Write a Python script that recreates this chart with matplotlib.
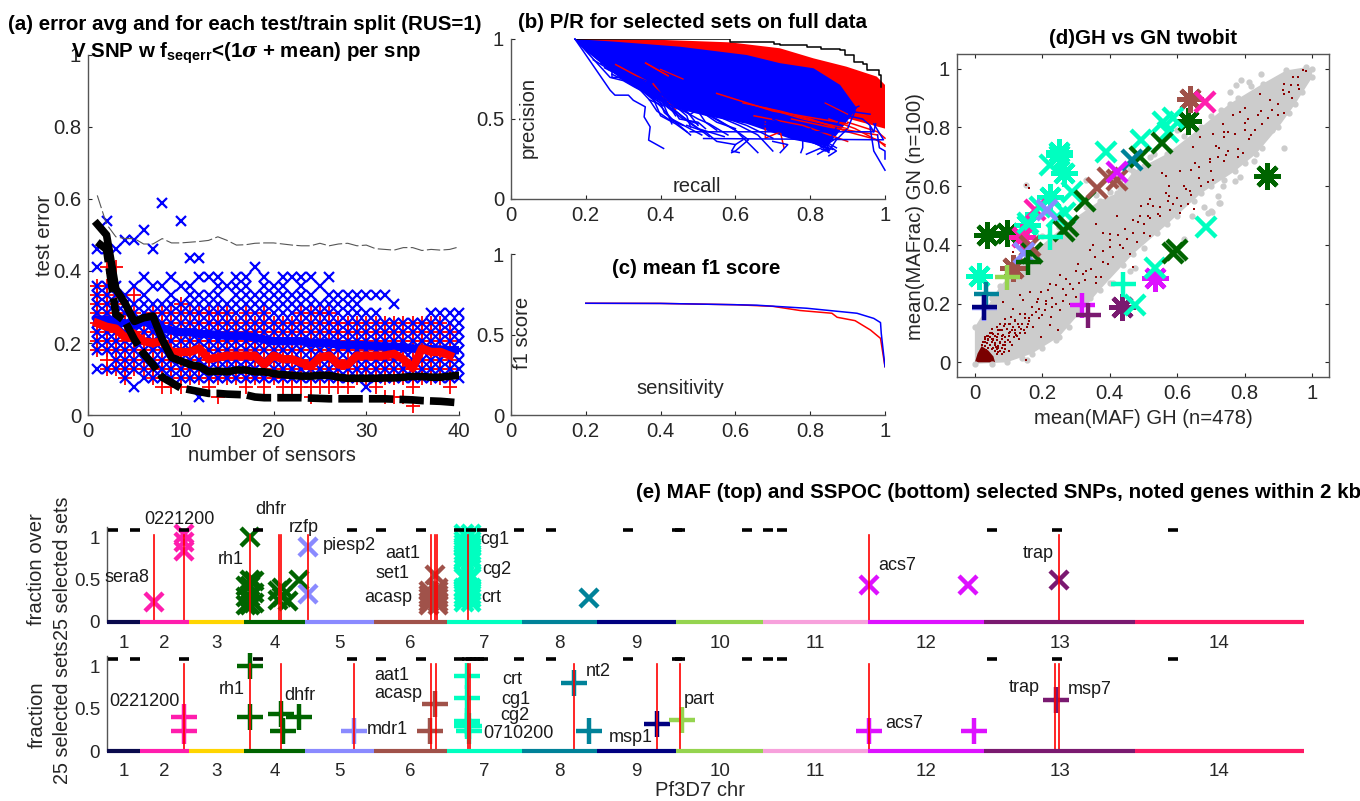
import matplotlib
matplotlib.use('Agg')
import matplotlib.pyplot as plt

plt.rcParams['font.family'] = ['Liberation Sans', 'DejaVu Sans']
plt.rcParams['mathtext.fontset'] = 'custom'
plt.rcParams['mathtext.rm'] = 'Liberation Sans'
plt.rcParams['mathtext.bf'] = 'Liberation Sans:bold'
plt.rcParams['mathtext.it'] = 'DejaVu Serif:italic:bold'

W, H = 1360, 801
TICK = '#262626'
TITLE_FS = 14.8
LABEL_FS = 14.6

# ---- panel (a): test error per sensor count
row_step = 1 / 39
blue_rows = [
    [5, 7, 8, 9, 10, 11, 12, 13, 14, 16, 18], [5, 7, 8, 9, 10, 11, 12, 13, 14, 18, 21],
    [5, 6, 7, 8, 9, 10, 11, 12, 13, 14, 18], [4, 5, 6, 7, 8, 9, 10, 11, 12, 13, 19],
    [3, 5, 6, 7, 8, 9, 10, 11, 12, 14, 19], [4, 5, 6, 7, 8, 9, 10, 11, 12, 13, 15, 20],
    [4, 5, 6, 7, 8, 9, 10, 11, 12, 14, 18], [4, 5, 6, 7, 8, 9, 10, 11, 12, 14, 23],
    [4, 5, 6, 7, 8, 9, 10, 11, 12, 13, 15], [4, 5, 6, 7, 8, 9, 10, 11, 12, 14, 21],
    [4, 5, 6, 7, 8, 9, 10, 11, 12, 13, 14, 17], [2, 4, 5, 6, 7, 8, 9, 10, 11, 12, 13, 15, 17],
    [4, 5, 6, 7, 8, 9, 10, 11, 12, 13, 15], [4, 5, 6, 7, 8, 9, 10, 11, 12, 13, 14, 15],
    [4, 5, 6, 7, 8, 9, 10, 11, 12, 14], [4, 5, 6, 7, 8, 9, 10, 11, 12, 13, 14, 15],
    [4, 5, 6, 7, 8, 9, 10, 11, 12, 13, 14, 15], [4, 5, 6, 7, 8, 9, 10, 11, 12, 13, 16],
    [4, 5, 6, 7, 8, 9, 10, 11, 12, 13, 14, 15], [4, 5, 6, 7, 8, 9, 10, 11, 12, 13, 14],
    [4, 5, 6, 7, 8, 9, 10, 11, 12, 13, 14, 15], [4, 5, 6, 7, 8, 9, 10, 11, 12, 13, 15],
    [4, 5, 6, 7, 8, 9, 10, 11, 12, 13, 14, 15], [4, 5, 6, 7, 8, 9, 10, 11, 12, 13, 15],
    [4, 5, 6, 7, 8, 9, 10, 11, 12, 14], [4, 5, 6, 7, 8, 9, 10, 11, 12, 13, 15],
    [4, 5, 6, 7, 8, 9, 10, 11, 12, 13], [4, 5, 6, 7, 8, 9, 10, 11, 12, 13],
    [4, 5, 6, 7, 8, 9, 10, 11, 12, 13], [3, 4, 5, 6, 7, 8, 9, 10, 11, 13],
    [4, 5, 6, 7, 8, 9, 10, 11, 13], [4, 5, 6, 7, 8, 9, 10, 13],
    [4, 5, 6, 7, 8, 9, 10, 12], [4, 5, 6, 7, 8, 9, 10],
    [4, 5, 6, 7, 8, 9, 10], [4, 5, 6, 7, 8, 9, 10],
    [4, 5, 6, 7, 8, 9, 10, 11], [4, 5, 6, 7, 8, 9, 10, 11],
    [4, 5, 6, 7, 8, 9, 10, 11], [4, 5, 6, 7, 8, 9, 10, 11],
]
red_rows = [
    [7, 8, 9, 10, 11, 12, 13, 14], [5, 6, 7, 8, 9, 10, 11, 12, 13, 14, 16],
    [5, 6, 7, 8, 9, 10, 11, 12, 16], [4, 5, 6, 7, 8, 9, 10, 11],
    [5, 6, 7, 8, 9, 10, 11, 13], [5, 6, 7, 8, 9, 10],
    [4, 5, 6, 7, 8, 9, 10, 11], [3, 4, 5, 6, 7, 8, 9, 10, 11],
    [3, 4, 5, 6, 7, 8, 9, 10, 11], [3, 4, 5, 6, 7, 8, 9, 10, 11, 12],
    [4, 5, 6, 7, 8, 9, 10, 11], [4, 5, 6, 7, 8, 9, 10, 11],
    [3, 4, 5, 6, 7, 8, 9, 10, 11], [2, 4, 5, 6, 7, 8, 9, 10, 11],
    [4, 5, 6, 7, 8, 9, 10, 11], [4, 5, 6, 7, 8, 9, 10],
    [3, 4, 5, 6, 7, 8, 9, 10, 11], [4, 5, 6, 7, 8, 9, 10],
    [3, 4, 5, 6, 7, 8, 9, 10, 11], [4, 5, 6, 7, 8, 9, 10],
    [3, 4, 5, 6, 7, 8, 9, 10], [3, 4, 5, 6, 7, 8, 9, 10],
    [3, 4, 5, 6, 7, 8, 9, 10, 11], [2, 3, 4, 5, 6, 7, 8, 9, 10, 11],
    [3, 4, 5, 6, 7, 8, 9, 10, 11], [3, 4, 5, 6, 7, 8, 9, 10, 11],
    [3, 4, 5, 6, 7, 8, 9, 10], [3, 4, 5, 6, 7, 8, 9, 10],
    [4, 5, 6, 7, 8, 9, 10], [4, 5, 6, 7, 8, 9, 10],
    [3, 4, 5, 6, 7, 8, 9, 10], [2, 4, 5, 6, 7, 8, 9, 10],
    [2, 4, 5, 6, 7, 8, 9, 10], [2, 4, 5, 6, 7, 8, 9, 10],
    [1, 3, 4, 5, 6, 7, 8, 9, 10], [4, 5, 6, 7, 8, 9, 10],
    [4, 5, 6, 7, 8, 9, 10], [4, 5, 6, 7, 8, 9, 10],
    [3, 4, 5, 6, 7, 8, 9],
]
sensors = list(range(1, 41))
mean_black = [.53, .50, .35, .31, .26, .27, .275, .21, .16, .15, .14, .135, .12, .122, .12, .125, .125,
              .12, .12, .115, .112, .11, .108, .108, .11, .11, .105, .102, .102, .102, .102, .103, .103,
              .105, .107, .107, .105, .105, .108, .11]
dash_black = [.48, .46, .28, .26, .21, .17, .14, .105, .09, .075, .07, .065, .06, .06, .058, .057, .056,
              .05, .048, .048, .048, .048, .048, .047, .046, .045, .045, .045, .045, .045, .045, .045,
              .044, .043, .042, .04, .039, .038, .036, .034]
mean_red = [.255, .245, .24, .215, .225, .205, .2, .205, .175, .175, .175, .185, .155, .16, .165, .165,
            .165, .165, .14, .165, .155, .155, .145, .135, .16, .165, .14, .14, .165, .165, .165, .165,
            .17, .155, .13, .185, .175, .175, .165]
mean_blue = [.265, .265, .26, .255, .25, .26, .25, .24, .235, .23, .23, .225, .225, .222, .22, .22, .22,
             .215, .21, .205, .205, .205, .205, .2, .2, .2, .195, .195, .195, .193, .192, .19, .19, .188,
             .185, .185, .183, .182, .18, .18]
dash_gray = [.61, .53, .495, .49, .49, .475, .475, .49, .478, .478, .48, .482, .485, .495, .485, .472,
             .473, .477, .478, .478, .475, .472, .47, .47, .477, .47, .475, .477, .47, .472, .462, .46,
             .458, .465, .465, .457, .46, .458, .46, .467]

# ---- panel (b): precision / recall, bulk outlines and single curves
red_top_x = [.171, .407, .586, .719, .809, .897, .978, 1.0]
red_top_y = [1.0, .994, .979, .942, .879, .827, .765, .713]
red_low_x = [1.0, .897, .80, .60, .40, .171]
red_low_y = [.44, .505, .55, .66, .80, 1.0]
blue_top_x = [.171, .273, .451, .63, .719, .809, .88, .925]
blue_top_y = [1.0, .984, .952, .90, .849, .817, .713, .567]
blue_low_x = [.925, .871, .844, .755, .63, .52, .45, .36, .30, .229, .184, .171]
blue_low_y = [.567, .40, .33, .37, .47, .52, .56, .66, .74, .87, .962, 1.0]
black_x = [.171, .586, .702, .72, .791, .83, .88, .893, .916, .942, .951, .983, .988]
black_y = [1.0, .981, .971, .965, .95, .94, .929, .898, .857, .846, .809, .773, .70]
blue_curves = [
    ([.171, .265, .278, .314, .327, .359, .356, .372, .368, .408], [1.0, .68, .649, .649, .617, .576, .513, .451, .368, .316]),
    ([.171, .265, .30, .33, .37, .41, .44, .48, .50, .57], [1.0, .76, .74, .70, .65, .60, .55, .47, .44, .39]),
    ([.20, .28, .33, .37, .39, .42, .46], [.93, .79, .72, .62, .55, .50, .46]),
    ([.25, .30, .34, .38, .40, .44, .47], [.82, .76, .70, .63, .52, .47, .42]),
    ([.29, .33, .36, .40, .43, .47, .51], [.77, .72, .66, .58, .50, .45, .40]),
    ([.30, .35, .40, .41, .45, .48], [.75, .68, .60, .54, .46, .40]),
    ([.36, .40, .44, .49, .53], [.66, .60, .55, .46, .39]),
    ([.41, .48, .50, .60, .66], [.60, .53, .56, .43, .29]),
    ([.50, .55, .60, .635, .60, .59], [.56, .50, .43, .37, .30, .29]),
    ([.479, .60, .97, .975], [.42, .42, .42, .47]),
    ([.515, .70, .996, .97], [.378, .375, .37, .47]),
    ([.96, .97, 1.0], [.45, .30, .18]),
    ([.98, .985, 1.0, 1.0], [.40, .32, .30, .25]),
    ([.70, .80, .85], [.50, .38, .29]),
    ([.80, .85, .83], [.44, .30, .31]),
    ([.78, .78, .775], [.37, .32, .29]),
    ([.87, .83, .79], [.38, .32, .28]),
    ([.84, .87, .85], [.35, .30, .27]),
    ([.82, .85, .82], [.40, .32, .28]),
    ([.88, .86, .84], [.50, .40, .30]),
    ([.92, .90, .87, .85], [.55, .44, .37, .30]),
    ([.55, .61, .66, .70], [.52, .46, .40, .30]),
    ([.60, .70, .78, .85], [.50, .44, .38, .31]),
    ([.47, .52, .55, .60], [.46, .42, .36, .34]),
    ([.37, .41, .43], [.62, .58, .47]),
    ([.93, .90, .96], [.58, .55, .53]),
    ([.22, .27, .27, .31, .33, .37], [.87, .80, .76, .76, .72, .70]),
    ([.24, .29, .32, .36, .38, .42], [.85, .79, .75, .70, .64, .60]),
    ([.26, .30, .35, .37, .41, .44], [.81, .77, .73, .66, .63, .52]),
    ([.27, .34, .38, .42, .46, .50], [.78, .70, .66, .57, .50, .47]),
    ([.31, .36, .39, .44, .47, .48], [.78, .74, .68, .58, .52, .45]),
    ([.33, .38, .43, .45, .50, .52], [.73, .66, .58, .50, .48, .44]),
    ([.35, .41, .45, .48, .50], [.70, .62, .60, .52, .46]),
    ([.38, .44, .47, .50, .53, .58], [.68, .60, .54, .50, .47, .40]),
    ([.40, .45, .50, .52, .55], [.66, .60, .55, .48, .43]),
    ([.42, .46, .50, .55, .60], [.64, .60, .56, .48, .44]),
    ([.46, .52, .58, .63, .70], [.60, .54, .50, .46, .38]),
    ([.52, .60, .67, .73, .80], [.58, .52, .46, .42, .38]),
    ([.64, .70, .76, .82], [.50, .46, .40, .35]),
    ([.68, .75, .80, .84], [.46, .42, .38, .33]),
    ([.72, .78, .82, .86], [.42, .38, .34, .31]),
    ([.76, .81, .84, .87], [.42, .38, .36, .32]),
    ([.70, .74, .72], [.36, .34, .29]),
    ([.62, .60, .59, .61], [.37, .34, .30, .29]),
    ([.90, .94, .96, .97], [.52, .50, .46, .42]),
]
red_curves = [
    ([.36, .42], [.85, .77]),
    ([.28, .36], [.84, .74]),
    ([.55, .70, .90], [.66, .55, .47]),
    ([.68, .68, .72, .73], [.48, .38, .42, .32]),
    ([.75, .85, .98], [.50, .45, .40]),
    ([.85, .92, 1.0], [.50, .44, .34]),
    ([.80, .90, .98, 1.0], [.50, .42, .37, .33]),
    ([.65, .78, .90], [.52, .46, .36]),
    ([.90, .98, 1.0], [.48, .42, .38]),
    ([.38, .42, .44], [.72, .60, .56]),
]
# red strands that run on top of the blue bulk
red_over = [
    ([.36, .42], [.85, .77]),
    ([.40, .46], [.81, .75]),
    ([.62, .72, .80], [.60, .55, .50]),
    ([.68, .78, .86], [.57, .50, .46]),
    ([.76, .84, .90], [.52, .47, .44]),
    ([.84, .90], [.60, .53]),
]

# ---- panel (c): mean f1 score
f1_red_x = [.2, .4, .6, .7, .773, .858, .872, .92, .961, .988, 1.0]
f1_red_y = [.694, .693, .685, .675, .649, .632, .607, .586, .528, .476, .30]
f1_blue_x = [.2, .4, .6, .657, .791, .925, .97, .988, .99, 1.0]
f1_blue_y = [.694, .693, .685, .682, .663, .632, .60, .574, .507, .30]

# ---- panel (d): GH vs GN allele frequencies
band_top_x = [0, .075, .17, .27, .37, .42, .47, .57, .67, .755, .854, .923, .982, 1.0]
band_top_y = [.12, .26, .37, .47, .55, .575, .65, .71, .80, .88, .949, .994, 1.005, 1.0]
band_low_x = [0, .095, .17, .25, .37, .47, .57, .67, .77, .834, .90, .95, 1.0]
band_low_y = [-.005, 0, .03, .087, .246, .37, .47, .575, .65, .71, .80, .88, .97]
gray_x = [.849, .814, .775, .755, .918, .827, .785, .770, .735, .720, .725, .701, .69, .644, .727, .702,
          .68, .475, .152, .154, .79, .85, .46, .41, .33, .29, .24, .20, .12, .05, .10, .43, .52, .60, .62,
          .03, .05, .09, .12, .14, .19, .22, .25, .30, .33, .36, .40, .43, .46, .50, .53, .58, .62, .66,
          .70, .73, .78, .82, .05, .14, .20, .23, .28, .31, .34, .40, .44, .50, .54, .60, .65, .70, .74,
          .80, .85, .88, .93, .97]
gray_y = [.983, .954, .943, .920, .731, .685, .631, .617, .602, .565, .542, .515, .51, .500, .541, .513,
          .53, .32, .604, .008, .96, .93, .31, .27, .62, .19, .075, .43, .35, .22, .02, .59, .70, .79, .42,
          .17, .22, .25, .31, .33, .38, .43, .46, .49, .53, .57, .58, .62, .66, .67, .71, .72, .77, .79,
          .84, .86, .90, .94, -.005, .015, .05, .09, .12, .17, .22, .27, .33, .39, .44, .50, .55, .60, .62,
          .68, .73, .79, .85, .92]
dot_x = [.084, .104, .114, .128, .069, .054, .079, .099, .123, .138, .044, .034, .064, .084, .108, .133,
         .089, .114, .084, .163, .187, .217, .242, .271, .306, .345, .380, .395, .340, .355, .400, .424,
         .469, .247, .222, .197, .173, .158, .148, .207, .227, .252, .281, .301, .183, .197, .222, .143,
         .133, .252, .281, .326, .375, .400, .444, .360, .400, .153, .114, .152, .160,
         .972, .982, .918, .938, .957, .943, .957, .931, .913, .918, .874, .844, .800, .785, .765, .849,
         .839, .809, .800, .869, .898, .918, .735, .740, .750, .740, .706, .668, .800, .819, .814, .770,
         .716, .725, .647, .780, .795, .745, .740, .696, .696, .654, .664, .642, .607, .556, .568, .577,
         .666, .706, .691, .627, .637, .568, .577, .573, .518, .528, .513, .494, .587, .612, .632, .651,
         .607, .543, .513, .489, .469, .484,
         .44, .47, .46, .50, .52, .55, .42, .38, .35, .30, .26, .19, .16, .12, .10, .09, .07, .06, .05,
         .04, .11, .13, .15, .08, .06, .10, .03, .075, .09, .12, .05, .07, .17, .21, .23, .27, .32, .36,
         .065, .07, .06, .05, .04, .03, .075, .085, .09, .08, .065, .055, .045, .10, .11, .12, .13, .14,
         .095, .085, .075, .065, .05, .105, .12, .15, .16, .17, .18, .19, .20, .21, .23, .24, .26, .27,
         .29, .31, .33, .36, .38, .41, .43, .45, .48, .50, .52, .55, .58, .60, .62, .64, .67, .70, .72,
         .75, .78, .83, .85, .88, .90, .94, .96,
         .02, .03, .04, .05, .06, .07, .08, .025, .035, .045, .055, .065, .075, .085, .03, .04, .05, .06,
         .07, .08, .09, .10, .035, .045, .055, .065, .075, .09, .105, .115, .125, .135, .145, .155]
dot_y = [.092, .103, .120, .132, .098, .075, .081, .075, .092, .115, .058, .041, .052, .058, .154, .166,
         .149, .183, .205, .240, .217, .245, .262, .285, .336, .319, .342, .336, .381, .359, .415, .432,
         .325, .109, .126, .086, .120, .132, .166, .177, .154, .177, .200, .222, .205, .240, .268, .211,
         .228, .296, .268, .279, .291, .393, .455, .472, .438, .007, .376, .604, .595,
         .996, .992, .949, .946, .943, .971, .971, .920, .928, .915, .894, .915, .867, .852, .841, .855,
         .841, .829, .815, .833, .841, .849, .812, .784, .784, .767, .778, .769, .792, .773, .761, .776,
         .735, .731, .733, .727, .712, .705, .687, .693, .682, .678, .665, .656, .653, .644, .636, .602,
         .628, .622, .614, .591, .583, .576, .568, .551, .557, .531, .540, .534, .540, .534, .540, .523,
         .508, .506, .500, .500, .483, .478,
         .39, .44, .37, .47, .43, .50, .50, .44, .40, .31, .25, .15, .15, .11, .10, .13, .11, .09, .08,
         .09, .06, .08, .10, .11, .06, .13, .07, .13, .06, .14, .10, .035, .19, .21, .19, .23, .30, .27,
         .03, .05, .06, .07, .08, .085, .065, .06, .07, .09, .085, .095, .10, .09, .11, .10, .12, .13,
         .115, .125, .11, .12, .115, .13, .145, .15, .14, .16, .17, .18, .16, .20, .22, .20, .21, .23,
         .25, .27, .31, .29, .38, .36, .40, .42, .41, .44, .49, .53, .52, .56, .60, .57, .60, .65, .70,
         .72, .70, .79, .81, .86, .88, .90, .93,
         .06, .055, .05, .045, .04, .035, .03, .07, .065, .06, .05, .045, .04, .035, .08, .075, .07, .065,
         .055, .05, .045, .04, .09, .085, .08, .075, .07, .085, .07, .085, .09, .10, .11, .12]
dense_x = [0, .06, .055, .04, .02, .008]
dense_y = [0, 0, .02, .04, .055, .03]

# chromosome colours, index 0 is chromosome 1
chr_colors = ['#0a0a4d', '#ff1dad', '#ffd500', '#006400', '#8a8aff', '#a0524a', '#00ffc0',
              '#008299', '#000080', '#95d44f', '#f7a1dc', '#dd11ff', '#7a1a70', '#ff1a66']

star_x = [.036, .095, .633, .865, .011, .248, .25, .263, .223, .154, .638, .112, .435, .534, .139]
star_y = [.434, .44, .822, .634, .294, .717, .705, .644, .564, .468, .896, .32, .19, .286, .428]
star_chr = [4, 4, 4, 4, 7, 7, 7, 7, 7, 7, 6, 6, 13, 12, 2]
cross_x = [.682, .179, .388, .492, .559, .588, .574, .287, .268, .223, .685, .534, .475, .243, .193, .159,
           .277, .327, .49, .554, .598, .588, .263, .169, .361, .396, .42, .164, .146, .213, .465, .42]
cross_y = [.888, .519, .717, .757, .82, .831, .785, .579, .507, .672, .46, .32, .195, .496, .53, .473,
           .464, .549, .70, .746, .383, .371, .448, .371, .593, .627, .62, .396, .371, .519, .689, .649]
cross_chr = [2, 2, 7, 7, 7, 7, 7, 7, 7, 7, 7, 7, 7, 7, 7, 7,
             4, 4, 4, 4, 4, 4, 4, 4, 6, 6, 6, 6, 5, 5, 8, 12]
plus_x = [.44, .223, .159, .095, .034, .026, .026, .319, .335]
plus_y = [.267, .428, .343, .292, .233, .184, .19, .195, .161]
plus_chr = [7, 7, 4, 10, 8, 5, 9, 12, 13]

# ---- panel (e): genome positions in Mb
chr_len = [.64, .95, 1.07, 1.2, 1.34, 1.42, 1.45, 1.47, 1.54, 1.69, 2.04, 2.27, 2.93, 3.29]
chr_names = ['1', '2', '3', '4', '5', '6', '7', '8', '9', '10', '11', '12', '13', '14']
gap_pos_top = [.12, .54, 1.49, 2.93, 4.77, 5.33, 6.12, 6.86, 7.08, 7.29, 8.01, 8.65, 10.15, 11.1,
               11.16, 12.45, 12.86, 13.14, 17.22, 18.49, 20.75]
gap_pos_bot = [.12, .54, 1.49, 2.93, 4.77, 5.33, 6.12, 6.86, 7.0, 7.08, 7.16, 7.24, 7.32, 8.01, 8.65,
               10.15, 11.1, 11.16, 12.45, 12.86, 13.14, 17.22, 18.49, 20.75]
gene_top = [.92, 1.49, 2.79, 3.35, 3.39, 3.91, 6.31, 6.39, 6.43, 7.02, 14.84, 18.53]
gene_bot = [1.49, 2.79, 3.39, 4.80, 6.31, 6.40, 7.02, 7.07, 9.10, 10.71, 11.16, 14.84, 18.46, 18.53]

top_x = [.92, 1.49, 1.49, 1.49, 2.79, 2.79, 2.79, 2.79, 2.79, 2.71, 2.71, 2.71, 2.87, 2.87, 2.87,
         3.32, 3.32, 3.40, 3.40, 3.53, 3.74, 3.91, 3.91,
         6.27, 6.27, 6.27, 6.27, 6.27, 6.44, 6.44, 6.44, 6.44, 6.44, 6.44, 6.39,
         6.95, 6.95, 6.95, 6.95, 6.95, 6.95, 6.95, 6.95, 6.95, 6.95, 6.95, 6.95, 6.95, 6.95, 6.95,
         7.08, 7.08, 7.08, 7.08, 7.08, 7.08, 7.08, 7.08, 7.08, 7.08, 7.08, 7.08, 7.08, 7.08, 7.08,
         9.38, 14.84, 16.75, 18.53]
top_y = [.24, .84, .94, 1.04, 1.0, .49, .42, .30, .20, .42, .30, .20, .48, .34, .22,
         .36, .26, .40, .30, .25, .50, .89, .33,
         .36, .32, .28, .24, .20, .40, .36, .32, .28, .24, .20, .56,
         .24, .28, .32, .36, .40, .52, .56, .72, .76, .80, .84, .88, .92, .96, 1.04,
         .24, .28, .32, .36, .40, .52, .56, .72, .76, .80, .84, .88, .92, .96, 1.04,
         .28, .44, .44, .49]
top_chr = [2, 2, 2, 2, 4, 4, 4, 4, 4, 4, 4, 4, 4, 4, 4,
           4, 4, 4, 4, 4, 4, 5, 5,
           6, 6, 6, 6, 6, 6, 6, 6, 6, 6, 6, 6,
           7, 7, 7, 7, 7, 7, 7, 7, 7, 7, 7, 7, 7, 7, 7,
           7, 7, 7, 7, 7, 7, 7, 7, 7, 7, 7, 7, 7, 7, 7,
           8, 12, 12, 13]

bot_x = [1.49, 1.49, 2.79, 2.79, 3.39, 3.42, 3.74, 4.80, 6.39, 6.29, 7.0, 7.0, 7.0, 7.0, 7.0, 7.05, 7.05, 9.1, 9.38,
         10.71, 11.2, 14.84, 16.88, 18.48]
bot_y = [.40, .24, 1.0, .40, .44, .24, .40, .24, .56, .24, .88, .62, .35, .32, .29, .29, .24, .80, .24, .32, .36, .24, .24, .60]
bot_chr = [2, 2, 4, 4, 4, 4, 4, 5, 6, 6, 7, 7, 7, 7, 7, 7, 7, 8, 8, 9, 10, 12, 12, 13]

labels_top = [('sera8', 127, 577), ('0221200', 179, 520), ('dhfr', 271, 510), ('rzfp', 304, 528),
              ('piesp2', 349, 545), ('rh1', 231, 560), ('aat1', 403, 554), ('set1', 393, 573),
              ('acasp', 388, 597), ('cg1', 495, 540), ('cg2', 497, 570), ('crt', 491, 598),
              ('acs7', 897, 565), ('trap', 1038, 554)]
labels_bot = [('0221200', 144, 701), ('rh1', 232, 690), ('dhfr', 300, 695), ('aat1', 392, 676),
              ('acasp', 398, 693), ('mdr1', 387, 730), ('crt', 512, 679), ('cg1', 516, 700),
              ('cg2', 515, 715), ('0710200', 518, 733), ('nt2', 598, 672), ('msp1', 631, 738),
              ('part', 699, 700), ('acs7', 904, 723), ('trap', 1024, 687), ('msp7', 1090, 690)]


def make_ax(left, top, right, bottom):
    ax = fig.add_axes([left / W, 1 - bottom / H, (right - left) / W, (bottom - top) / H])
    ax.tick_params(direction='in', length=3, width=0.8, colors=TICK, labelsize=LABEL_FS, pad=5)
    for side in ax.spines:
        ax.spines[side].set_color('#555555')
        ax.spines[side].set_linewidth(1.0)
    ax.patch.set_alpha(0)
    return ax


def put(x, y, s, **kw):
    kw.setdefault('ha', 'center')
    kw.setdefault('va', 'center')
    kw.setdefault('fontsize', LABEL_FS)
    kw.setdefault('color', TICK)
    fig.text(x / W, 1 - y / H, s, **kw)


def title(x, y, s, **kw):
    put(x, y, s, fontsize=TITLE_FS, fontweight='bold', color='black', **kw)


fig = plt.figure(figsize=(W / 100, H / 100), dpi=100)

# (a)
ax = make_ax(88, 55, 459, 415)
for n, rows in zip(sensors, red_rows):
    ax.plot([n] * len(rows), [k * row_step for k in rows], '+', color='red', ms=10, mew=1.3, clip_on=False)
for n, rows in zip(sensors, blue_rows):
    ax.plot([n] * len(rows), [k * row_step for k in rows], 'x', color='#0000ff', ms=7.5, mew=1.6, clip_on=False)
ax.plot(sensors, dash_gray, color='#555555', lw=0.8, dashes=(12, 3))
ax.plot(sensors, mean_blue, color='#0000ff', lw=6)
ax.plot(sensors[:39], mean_red, color='red', lw=6)
ax.plot(sensors, mean_black, color='black', lw=5.5)
ax.plot(sensors, dash_black, color='black', lw=5.5, dashes=(3.2, 0.8))
ax.set_xlim(0, 40)
ax.set_ylim(0, 1)
ax.set_xticks([0, 10, 20, 30, 40])
ax.set_yticks([0, .2, .4, .6, .8, 1])
ax.set_yticklabels(['0', '0.2', '0.4', '0.6', '0.8', '1'])
ax.spines[['top', 'right']].set_visible(False)
put(45, 235, 'test error', rotation=90)
put(272, 456, 'number of sensors')
title(245, 25, '(a) error avg and for each test/train split (RUS=1)')
title(246, 53, r'V SNP w f$_{\mathbf{seqerr}}$<(1$\sigma$ + mean) per snp')

# (b)
ax = make_ax(511, 39, 885, 199)
ax.plot(black_x, black_y, color='black', lw=1.1, drawstyle='steps-post')
ax.fill(red_top_x + red_low_x, red_top_y + red_low_y, color='red', lw=0)
for xs, ys in red_curves:
    ax.plot(xs, ys, color='red', lw=1.1, clip_on=False)
ax.fill(blue_top_x + blue_low_x, blue_top_y + blue_low_y, color='#0000ff', lw=0)
for xs, ys in blue_curves:
    ax.plot(xs, ys, color='#0000ff', lw=1.1, clip_on=False)
for xs, ys in red_over:
    ax.plot(xs, ys, color='red', lw=0.9)
ax.set_xlim(0, 1)
ax.set_ylim(0, 1)
ax.set_xticks([0, .2, .4, .6, .8, 1])
ax.set_xticklabels(['0', '0.2', '0.4', '0.6', '0.8', '1'])
ax.set_yticks([0, .5, 1])
ax.set_yticklabels(['0', '0.5', '1'])
ax.spines[['top', 'right']].set_visible(False)
put(528, 117, 'precision', rotation=90)
put(697, 187, 'recall')
title(692, 23, '(b) P/R for selected sets on full data')

# (c)
ax = make_ax(511, 254, 885, 415)
ax.plot(f1_red_x, f1_red_y, color='red', lw=1.1)
ax.plot(f1_blue_x, f1_blue_y, color='#0000ff', lw=1.1)
ax.set_xlim(0, 1)
ax.set_ylim(0, 1)
ax.set_xticks([0, .2, .4, .6, .8, 1])
ax.set_xticklabels(['0', '0.2', '0.4', '0.6', '0.8', '1'])
ax.set_yticks([0, .5, 1])
ax.set_yticklabels(['0', '0.5', '1'])
ax.spines[['top', 'right']].set_visible(False)
put(522, 333, 'f1 score', rotation=90)
put(680, 388, 'sensitivity')
title(696, 269, '(c) mean f1 score')

# (d)
ax = make_ax(957, 54, 1329, 377)
ax.fill(band_top_x + band_low_x[::-1], band_top_y + band_low_y[::-1], color='#cccccc', lw=0)
ax.plot(band_top_x + band_low_x, band_top_y + band_low_y, '.', color='#cccccc', ms=7)
ax.plot(gray_x, gray_y, '.', color='#cccccc', ms=7)
ax.fill(dense_x, dense_y, color='#7a0000', lw=0)
ax.plot(dot_x, dot_y, 's', color='#8b0000', ms=1.7, mew=0)
for xs, ys, cs, mk, ms in [(star_x, star_y, star_chr, (8, 2, 0), 19), (cross_x, cross_y, cross_chr, 'x', 15),
                           (plus_x, plus_y, plus_chr, '+', 18)]:
    for x, y, c in zip(xs, ys, cs):
        ax.plot(x, y, marker=mk, color=chr_colors[c - 1], ms=ms, mew=3.2, ls='none')
ax.set_xlim(-.053, 1.05)
ax.set_ylim(-.05, 1.05)
ax.set_xticks([0, .2, .4, .6, .8, 1])
ax.set_xticklabels(['0', '0.2', '0.4', '0.6', '0.8', '1'])
ax.set_yticks([0, .2, .4, .6, .8, 1])
ax.set_yticklabels(['0', '0.2', '0.4', '0.6', '0.8', '1'])
ax.tick_params(top=True, right=True)
put(1143, 418, 'mean(MAF) GH (n=478)')
put(915, 217, 'mean(MAFrac) GN (n=100)', rotation=90)
title(1143, 38, '(d)GH vs GN twobit')

# (e)
starts = [sum(chr_len[:i]) for i in range(len(chr_len))]
centers = [s + l / 2 for s, l in zip(starts, chr_len)]
total = sum(chr_len)


def genome_panel(top, bottom, gaps, genes, xs, ys, cs, marker, ms):
    ax = make_ax(107, top, 1304, bottom)
    for x in genes:
        ax.plot([x, x], [0, 1.02], color='red', lw=1.2, zorder=3)
    for x, y, c in zip(xs, ys, cs):
        ax.plot(x, y, marker=marker, color=chr_colors[c - 1], ms=ms, mew=3.2, ls='none', clip_on=False, zorder=2)
    ax.plot(gaps, [1.08] * len(gaps), '_', color='black', ms=7, mew=2.6, clip_on=False, zorder=4)
    for i in range(14):
        ax.plot([starts[i], starts[i] + chr_len[i]], [0, 0], color=chr_colors[i], lw=3,
                solid_capstyle='butt', clip_on=False, zorder=3)
    ax.set_xlim(0, total)
    ax.set_ylim(0, 1.12)
    ax.set_xticks(centers)
    ax.set_xticklabels(chr_names, fontsize=13.5)
    ax.set_yticks([0, .5, 1])
    ax.set_yticklabels(['0', '0.5', '1'], fontsize=13.5)
    ax.tick_params(axis='x', length=0, pad=9)
    ax.tick_params(axis='y', length=0, pad=5)
    ax.spines[['top', 'right', 'bottom']].set_visible(False)
    return ax


genome_panel(527, 622, gap_pos_top, gene_top, top_x, top_y, top_chr, 'x', 12.5)
genome_panel(656, 751, gap_pos_bot, gene_bot, bot_x, bot_y, bot_chr, '+', 18.5)
for s, x, y in labels_top + labels_bot:
    put(x, y, s, fontsize=13, color='#1a1a1a')
put(37, 569, 'fraction over', rotation=90)
put(63, 568, '25 selected sets', rotation=90, fontsize=14.2)
put(37, 715, 'fraction', rotation=90)
put(63, 712, '25 selected sets', rotation=90, fontsize=14.2)
put(700, 790, 'Pf3D7 chr')
title(636, 493, '(e) MAF (top) and SSPOC (bottom) selected SNPs, noted genes within 2 kb', ha='left')

fig.savefig('out.png', dpi=100)
